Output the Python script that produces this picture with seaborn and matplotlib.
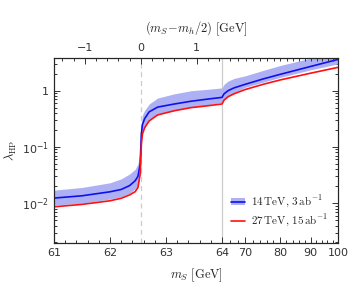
import numpy as np
import seaborn as sns
import matplotlib
matplotlib.use("Agg")
import matplotlib.pyplot as plt
from matplotlib.patches import Patch
from matplotlib.lines import Line2D
from matplotlib.ticker import FixedLocator, NullFormatter
from matplotlib.font_manager import FontProperties

# values
m_s = [61, 61.5, 62, 62.2, 62.35, 62.45, 62.5, 62.54, 62.56, 62.58, 62.62, 62.7, 62.85,
       63.15, 63.45, 63.75, 64, 64.5, 65.5, 67, 70, 75, 80, 90, 100]
lam_14 = [0.0123, 0.0135, 0.0159, 0.0175, 0.0205, 0.025, 0.030, 0.05, 0.17, 0.25, 0.32, 0.42, 0.51,
          0.58, 0.65, 0.71, 0.76, 0.88, 1.0, 1.12, 1.3, 1.62, 1.95, 2.7, 3.6]
lam_14_hi = [0.017, 0.019, 0.023, 0.027, 0.033, 0.040, 0.050, 0.09, 0.26, 0.37, 0.45, 0.58, 0.74,
             0.88, 1.0, 1.06, 1.12, 1.3, 1.48, 1.65, 1.84, 2.3, 2.8, 3.8, 5.0]
lam_14_lo = [0.0092, 0.010, 0.0118, 0.013, 0.015, 0.018, 0.021, 0.036, 0.12, 0.18, 0.23, 0.31, 0.39,
             0.45, 0.51, 0.56, 0.62, 0.70, 0.80, 0.92, 1.15, 1.42, 1.72, 2.35, 3.0]
lam_27 = [0.0086, 0.0095, 0.011, 0.0122, 0.014, 0.016, 0.019, 0.033, 0.11, 0.17, 0.22, 0.29, 0.37,
          0.44, 0.50, 0.54, 0.58, 0.68, 0.78, 0.88, 1.05, 1.3, 1.55, 2.05, 2.6]

x_ticks = [61, 62, 63, 64, 70, 80, 90, 100]
y_ticks = [0.01, 0.1, 1]
y_tick_labels = ["$10^{-2}$", "$10^{-1}$", "1"]
top_ticks = [-1, 0, 1]
top_tick_labels = ["\u22121", "0", "1"]
mh_half = 62.55
x_break = 64
K = 4.64


def fwd(x):
    x = np.asarray(x, dtype=float)
    return np.where(x <= x_break, x - 61, 3 + K * np.log(np.maximum(x, 1e-9) / x_break))


def inv(u):
    u = np.asarray(u, dtype=float)
    return np.where(u <= 3, u + 61, x_break * np.exp((u - 3) / K))


def style_ticks(a):
    a.tick_params(which="both", direction="in", labelsize=8, colors="#333333", width=0.7)
    a.tick_params(which="major", length=4)
    a.tick_params(which="minor", length=2)


sns.set_style("ticks")
fig = plt.figure(figsize=(3.57, 2.89), dpi=100)
ax = fig.add_axes([0.151, 0.159, 0.796, 0.640])
ax.set_xscale("function", functions=(fwd, inv))
ax.set_yscale("log")

band_col = "#adb1f4"
ax.fill_between(m_s, lam_14_lo, lam_14_hi, color=band_col, lw=0, zorder=1)
sns.lineplot(x=m_s, y=lam_14, ax=ax, color="#1010ee", lw=1.2, estimator=None, sort=False, zorder=3)
sns.lineplot(x=m_s, y=lam_27, ax=ax, color="#ff1010", lw=1.2, estimator=None, sort=False, zorder=3)

ax.axvline(mh_half, color="#cccccc", lw=0.9, ls=(0, (4, 3)), zorder=0)
ax.axvline(x_break, color="#cccccc", lw=0.9, zorder=0)

ax.set_xlim(61, 100)
ax.set_ylim(0.00195, 3.8)

ax.xaxis.set_major_locator(FixedLocator(x_ticks))
ax.set_xticklabels([str(t) for t in x_ticks])
minor_x = list(np.arange(61, 64, 0.2)) + list(range(66, 100, 2))
ax.xaxis.set_minor_locator(FixedLocator(minor_x))
ax.xaxis.set_minor_formatter(NullFormatter())

ax.yaxis.set_major_locator(FixedLocator(y_ticks))
ax.set_yticklabels(y_tick_labels)
minor_y = [m * 10.0 ** e for e in range(-3, 1) for m in range(2, 10)]
ax.yaxis.set_minor_locator(FixedLocator(minor_y))
ax.yaxis.set_minor_formatter(NullFormatter())
ax.tick_params(which="both", top=False, right=True)
style_ticks(ax)
for s in ax.spines.values():
    s.set_linewidth(0.8)
    s.set_color("#222222")

# top axis: m_S - m_h/2, same piecewise scale as the bottom one
top = ax.twiny()
top.set_xscale("function", functions=(fwd, inv))
top.set_xlim(ax.get_xlim())
top.xaxis.set_major_locator(FixedLocator([mh_half + t for t in top_ticks]))
top.set_xticklabels(top_tick_labels)
minor_top = [mh_half + d for d in np.arange(-1.4, 1.5, 0.2)] + list(np.arange(mh_half + 3.5, 100, 2))
top.xaxis.set_minor_locator(FixedLocator(minor_top))
top.xaxis.set_minor_formatter(NullFormatter())
style_ticks(top)
top.grid(False)

ax.set_xlabel(r"$m_S\ [\mathrm{GeV}]$", fontsize=9, math_fontfamily="cm", labelpad=6)
ax.set_ylabel(r"$\lambda_{\rm HP}$", fontsize=9, math_fontfamily="cm", labelpad=2)
top.set_xlabel(r"$(m_S\!-\!m_h/2)\ [\mathrm{GeV}]$", fontsize=9, math_fontfamily="cm", labelpad=8)

h14 = (Patch(facecolor=band_col, edgecolor="none"), Line2D([], [], color="#1010ee", lw=1.2))
h27 = Line2D([], [], color="#ff1010", lw=1.2)
ax.legend([h14, h27],
          [r"$14\,\mathrm{TeV},\,3\,\mathrm{ab}^{-1}$", r"$27\,\mathrm{TeV},\,15\,\mathrm{ab}^{-1}$"],
          loc="lower right", bbox_to_anchor=(1.0, 0.02), frameon=False,
          prop=FontProperties(size=8, math_fontfamily="cm"),
          handlelength=1.3, handletextpad=0.5, borderaxespad=0.5, labelspacing=0.3)

fig.savefig("out.png", dpi=100)
